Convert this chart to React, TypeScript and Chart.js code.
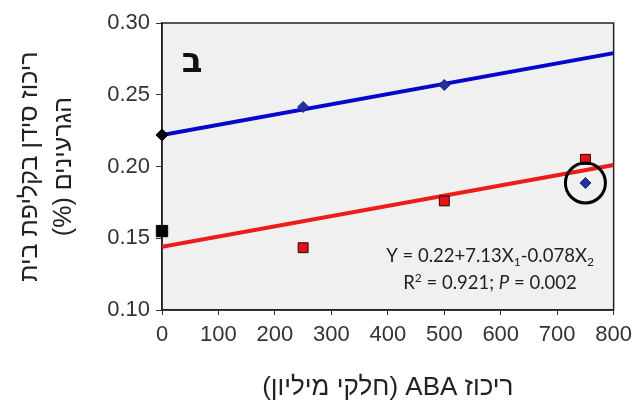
import React, { useEffect, useRef } from 'react';
import { Chart, registerables } from 'chart.js';

Chart.register(...registerables);

// ---- data ----
const xTickValues = [0, 100, 200, 300, 400, 500, 600, 700, 800];
const yTickValues = [0.1, 0.15, 0.2, 0.25, 0.3];
const controlX = [0];
const controlDiamond = [0.222];
const controlSquare = [0.155];
const treatX = [250, 500, 750];
const diamondValues = [0.2415, 0.2568, 0.1885];
const squareValues = [0.1434, 0.176, 0.205];
const circledX = [750];
const circledY = [0.1885];
const fitX = [0, 800];
const blueFit = [0.222, 0.279];
const redFit = [0.144, 0.201];

const xTitle = 'ריכוז ABA (חלקי מיליון)';
const yTitle = ['ריכוז סידן בקליפת בית', 'הגרעינים (%)'];
const panelLabel = 'ב';
const eqLine1 = [
  { t: 'Y = 0.22+7.13X' },
  { t: '1', sub: true },
  { t: '-0.078X' },
  { t: '2', sub: true },
];
const eqLine2 = [
  { t: 'R' },
  { t: '2', sup: true },
  { t: ' = 0.921; ' },
  { t: 'P', italic: true },
  { t: ' = 0.002' },
];

const pts = (xs: number[], ys: number[]) => xs.map((x, i) => ({ x, y: ys[i] }));

type Seg = { t: string; sub?: boolean; sup?: boolean; italic?: boolean };

function drawRich(ctx: CanvasRenderingContext2D, segs: Seg[], cx: number, cy: number, size: number, family: string) {
  const fontFor = (s: Seg) => {
    const sz = s.sub || s.sup ? Math.round(size * 0.65) : size;
    return `${s.italic ? 'italic ' : ''}${sz}px ${family}`;
  };
  let total = 0;
  const widths = segs.map((s) => {
    ctx.font = fontFor(s);
    const w = ctx.measureText(s.t).width;
    total += w;
    return w;
  });
  let x = cx - total / 2;
  ctx.textAlign = 'left';
  ctx.textBaseline = 'alphabetic';
  const base = cy + size * 0.35;
  segs.forEach((s, i) => {
    ctx.font = fontFor(s);
    let y = base;
    if (s.sub) y += size * 0.22;
    if (s.sup) y -= size * 0.38;
    ctx.fillText(s.t, x, y);
    x += widths[i];
  });
}

const decorPlugin = {
  id: 'decor',
  beforeDraw(chart: any) {
    const { ctx, chartArea: a } = chart;
    ctx.save();
    ctx.fillStyle = '#f0f0f0';
    ctx.fillRect(a.left, a.top, a.right - a.left, a.bottom - a.top);
    ctx.strokeStyle = '#222';
    ctx.lineWidth = 1.5;
    ctx.strokeRect(a.left, a.top, a.right - a.left, a.bottom - a.top);
    ctx.restore();
    (ctx as any).direction = 'rtl';
  },
  afterDraw(chart: any) {
    const { ctx, scales } = chart;
    ctx.save();
    (ctx as any).direction = 'ltr';
    ctx.fillStyle = '#111';
    ctx.textAlign = 'center';
    ctx.textBaseline = 'middle';
    ctx.font = 'bold 34px "DejaVu Sans", "Liberation Sans", sans-serif';
    const a = chart.chartArea;
    ctx.fillText(panelLabel, a.left + 30, a.top + 40);
    ctx.fillStyle = '#222';
    const cx = scales.x.getPixelForValue(581);
    drawRich(ctx, eqLine1, cx, scales.y.getPixelForValue(0.1383), 18.5, 'Lato, "Open Sans", sans-serif');
    drawRich(ctx, eqLine2, cx, scales.y.getPixelForValue(0.1188), 18.5, 'Lato, "Open Sans", sans-serif');
    ctx.restore();
  },
};

export default function App() {
  const ref = useRef<HTMLCanvasElement>(null);
  useEffect(() => {
    if (!ref.current) return;
    const chart = new Chart(ref.current, {
      type: 'scatter',
      data: {
        datasets: [
          {
            label: 'circled',
            data: pts(circledX, circledY),
            pointStyle: 'circle',
            pointRadius: 20,
            backgroundColor: 'rgba(0,0,0,0)',
            borderColor: '#000',
            borderWidth: 3,
            clip: false,
            order: 1,
          },
          {
            label: 'control diamond',
            data: pts(controlX, controlDiamond),
            pointStyle: 'rectRot',
            pointRadius: 6,
            backgroundColor: '#000',
            borderColor: '#000',
            borderWidth: 1,
            clip: false,
            order: 2,
          },
          {
            label: 'control square',
            data: pts(controlX, controlSquare),
            pointStyle: 'rect',
            pointRadius: 8,
            backgroundColor: '#000',
            borderColor: '#000',
            borderWidth: 1,
            clip: false,
            order: 2,
          },
          {
            label: 'diamonds',
            data: pts(treatX, diamondValues),
            pointStyle: 'rectRot',
            pointRadius: 5.5,
            backgroundColor: '#22319c',
            borderColor: '#1a2580',
            borderWidth: 1,
            clip: false,
            order: 3,
          },
          {
            label: 'squares',
            data: pts(treatX, squareValues),
            pointStyle: 'rect',
            pointRadius: 7,
            backgroundColor: '#e3131b',
            borderColor: '#300',
            borderWidth: 1,
            clip: false,
            order: 3,
          },
          {
            label: 'blue fit',
            data: pts(fitX, blueFit),
            showLine: true,
            pointRadius: 0,
            borderColor: '#0606cc',
            borderWidth: 4,
            order: 5,
          },
          {
            label: 'red fit',
            data: pts(fitX, redFit),
            showLine: true,
            pointRadius: 0,
            borderColor: '#ec1c1c',
            borderWidth: 4,
            order: 5,
          },
        ],
      },
      options: {
        responsive: false,
        animation: false,
        events: [],
        layout: { padding: { left: 0, right: 24, top: 23, bottom: 0 } },
        plugins: { legend: { display: false }, tooltip: { enabled: false } },
        scales: {
          x: {
            type: 'linear',
            min: 0,
            max: 800,
            afterFit: (s: any) => {
              s.height = 92;
            },
            afterBuildTicks: (s: any) => {
              s.ticks = xTickValues.map((v) => ({ value: v }));
            },
            ticks: {
              color: '#333',
              font: { family: '"Liberation Sans", Arial, sans-serif', size: 22 },
              padding: 7,
              maxRotation: 0,
            },
            grid: { drawOnChartArea: false, drawTicks: true, tickLength: 5, color: '#333' },
            border: { display: true, color: '#222', width: 1.5 },
            title: {
              display: true,
              text: xTitle,
              color: '#222',
              font: { family: '"Liberation Sans", Arial, sans-serif', size: 26, lineHeight: 1.0 },
              padding: { top: 0, bottom: 1 },
            },
          },
          y: {
            type: 'linear',
            min: 0.1,
            max: 0.3,
            afterFit: (s: any) => {
              s.width = 162;
            },
            afterBuildTicks: (s: any) => {
              s.ticks = yTickValues.map((v) => ({ value: v }));
            },
            ticks: {
              color: '#333',
              font: { family: '"Liberation Sans", Arial, sans-serif', size: 22 },
              padding: 6,
              callback: (v: any) => Number(v).toFixed(2),
            },
            grid: { drawOnChartArea: false, drawTicks: true, tickLength: 6, color: '#333' },
            border: { display: true, color: '#222', width: 1.5 },
            title: {
              display: true,
              text: yTitle,
              color: '#222',
              font: { family: '"Liberation Sans", Arial, sans-serif', size: 25, lineHeight: 1.36 },
              padding: { top: 13, bottom: 0 },
            },
          },
        },
      },
      plugins: [decorPlugin],
    } as any);
    return () => chart.destroy();
  }, []);
  return (
    <div style={{ position: 'absolute', left: 0, top: 0, width: 639, height: 402, background: '#fff' }}>
      <canvas ref={ref} width={639} height={402} />
    </div>
  );
}
